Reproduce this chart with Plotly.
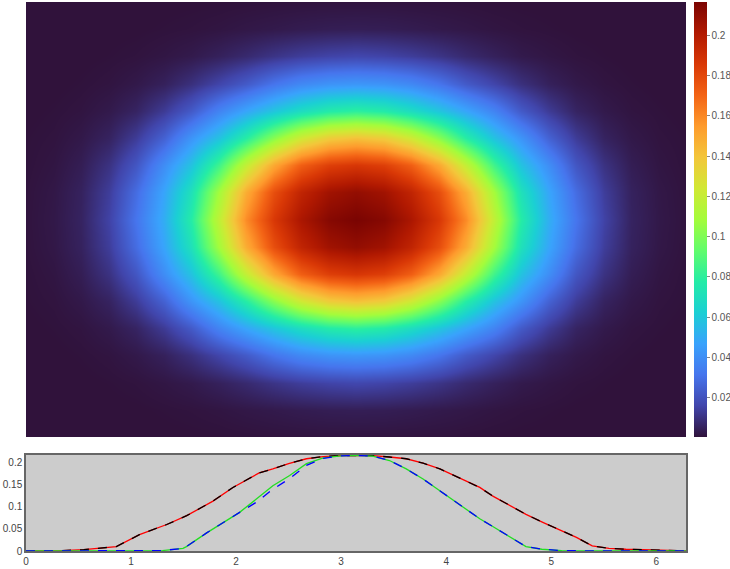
import plotly.graph_objects as go

# ---- Heatmap data: one quadrant (rows: centre -> top edge, cols: centre -> right edge)
heat_quadrant = [
    [0.2165, 0.2131, 0.2028, 0.186, 0.159, 0.118, 0.0774, 0.0507, 0.0315, 0.0152, 0.0057, 0.0024, 0.0010],
    [0.2094, 0.2056, 0.1954, 0.1778, 0.1485, 0.1088, 0.0712, 0.0478, 0.0286, 0.0136, 0.0053, 0.0022, 0.0009],
    [0.1866, 0.1831, 0.172, 0.1503, 0.1188, 0.0847, 0.0578, 0.0396, 0.0214, 0.0102, 0.0040, 0.0016, 0.0007],
    [0.1413, 0.1369, 0.1233, 0.1023, 0.0781, 0.0578, 0.0421, 0.0252, 0.0132, 0.0056, 0.0025, 0.0011, 0.0006],
    [0.080, 0.0768, 0.0691, 0.059, 0.0479, 0.0365, 0.0226, 0.0129, 0.0059, 0.0028, 0.0013, 0.0007, 0.0003],
    [0.0431, 0.0419, 0.0382, 0.0315, 0.0228, 0.016, 0.0096, 0.0050, 0.0026, 0.0013, 0.0007, 0.0003, 0.0002],
    [0.0165, 0.0155, 0.0136, 0.0109, 0.0076, 0.0050, 0.0029, 0.0018, 0.0010, 0.0006, 0.0003, 0.0002, 0.0001],
    [0.0042, 0.0040, 0.0035, 0.0028, 0.0022, 0.0015, 0.0010, 0.0007, 0.0004, 0.0003, 0.0002, 0.0001, 0.0001],
    [0.0011, 0.0011, 0.0010, 0.0009, 0.0007, 0.0005, 0.0004, 0.0003, 0.0002, 0.0001, 0.0001, 0.0001, 0.0001],
]
heat_x = [0, 0.2618, 0.5236, 0.7854, 1.0472, 1.309, 1.5708, 1.8326, 2.0944, 2.3562, 2.618, 2.8798,
          3.1416, 3.4034, 3.6652, 3.927, 4.1888, 4.4506, 4.7124, 4.9742, 5.236, 5.4978, 5.7596,
          6.0214, 6.2832]
heat_y = [0, 0.28, 0.56, 0.84, 1.12, 1.4, 1.68, 1.96, 2.24, 2.52, 2.8, 3.08, 3.36, 3.64, 3.92,
          4.2, 4.48]

# ---- Profile lines (bottom panel)
red_x = [0, 0.3, 0.55, 0.86, 1.08, 1.34, 1.53, 1.78, 1.97, 2.22, 2.35, 2.50, 2.67, 2.83, 2.99,
         3.14, 3.30, 3.46, 3.62, 3.78, 3.94, 4.13, 4.32, 4.44, 4.60, 4.76, 4.92, 5.08, 5.24,
         5.39, 5.55, 5.71, 6.02, 6.283]
red_v = [0, 0.0005, 0.003, 0.010, 0.037, 0.060, 0.080, 0.113, 0.144, 0.177, 0.186, 0.198, 0.209,
         0.214, 0.216, 0.2165, 0.216, 0.213, 0.209, 0.199, 0.186, 0.165, 0.144, 0.125, 0.104,
         0.083, 0.065, 0.048, 0.031, 0.0115, 0.006, 0.004, 0.001, 0]
black_v = [0, 0.0005, 0.003, 0.010, 0.037, 0.060, 0.080, 0.113, 0.144, 0.177, 0.186, 0.198, 0.209,
           0.214, 0.216, 0.2165, 0.216, 0.213, 0.209, 0.199, 0.186, 0.165, 0.144, 0.125, 0.104,
           0.083, 0.065, 0.048, 0.031, 0.0115, 0.006, 0.004, 0.001, 0]

green_x = [0, 0.5, 1.0, 1.30, 1.495, 1.527, 1.72, 1.97, 2.03, 2.19, 2.35, 2.51, 2.67, 2.83, 3.0,
           3.14, 3.30, 3.46, 3.62, 3.78, 3.94, 4.09, 4.20, 4.32, 4.44, 4.60, 4.76, 4.91, 5.1,
           5.5, 6.0, 6.283]
green_v = [0, 0, 0, 0.001, 0.006, 0.010, 0.041, 0.079, 0.087, 0.117, 0.148, 0.171, 0.198, 0.211,
           0.2155, 0.2165, 0.215, 0.205, 0.186, 0.163, 0.136, 0.110, 0.092, 0.073, 0.056, 0.033,
           0.010, 0.004, 0.001, 0, 0, 0]
blue_v = [0, 0, 0, 0.001, 0.006, 0.010, 0.041, 0.079, 0.087, 0.110, 0.140, 0.164, 0.194, 0.210,
          0.2155, 0.2165, 0.215, 0.205, 0.186, 0.163, 0.136, 0.110, 0.092, 0.073, 0.056, 0.033,
          0.010, 0.004, 0.001, 0, 0, 0]

# Build the full symmetric table from the quadrant
half_rows = [row[::-1][:-1] + row for row in heat_quadrant]
z = half_rows[::-1][:-1] + half_rows

W, H = 730, 569
L, R, T, B = 26, 44, 2, 18
ph = H - T - B

fig = go.Figure()
fig.add_trace(go.Heatmap(
    x=heat_x, y=heat_y, z=z, zsmooth="best", colorscale="Turbo",
    zmin=0.0005, zmax=0.2165, xaxis="x", yaxis="y",
    colorbar=dict(
        x=(694 - L) / (W - L - R), xanchor="left", y=1, yanchor="top",
        len=435, lenmode="pixels", thickness=13, thicknessmode="pixels",
        outlinewidth=0, tickmode="linear", tick0=0.02, dtick=0.02, tickformat="~g",
        ticks="outside", ticklen=3,
        tickcolor="#888", tickfont=dict(family="Liberation Sans", size=10, color="#555"),
        xpad=0, ypad=0,
    ),
))

line_w = 1.3
fig.add_trace(go.Scatter(x=red_x, y=red_v, mode="lines", line=dict(color="red", width=line_w),
                         xaxis="x2", yaxis="y2", showlegend=False))
fig.add_trace(go.Scatter(x=red_x, y=black_v, mode="lines",
                         line=dict(color="black", width=line_w, dash="dash"),
                         xaxis="x2", yaxis="y2", showlegend=False))
fig.add_trace(go.Scatter(x=green_x, y=green_v, mode="lines",
                         line=dict(color="#22dd22", width=line_w),
                         xaxis="x2", yaxis="y2", showlegend=False))
fig.add_trace(go.Scatter(x=green_x, y=blue_v, mode="lines",
                         line=dict(color="blue", width=line_w, dash="dash"),
                         xaxis="x2", yaxis="y2", showlegend=False))

tickfont = dict(family="Liberation Sans", size=10, color="#444")
fig.update_layout(
    width=W, height=H, margin=dict(l=L, r=R, t=T, b=B, autoexpand=False),
    paper_bgcolor="white", plot_bgcolor="#cccccc",
    xaxis=dict(domain=[0, 1], range=[0, 6.2832], visible=False),
    yaxis=dict(domain=[1 - 435 / ph, 1], range=[0, 4.48], visible=False),
    xaxis2=dict(domain=[0, 1], range=[0, 6.2832], anchor="y2", dtick=1, tick0=0,
                showgrid=False, zeroline=False, showline=True, mirror=True,
                linecolor="#666", linewidth=1.5, ticks="", tickfont=tickfont),
    yaxis2=dict(domain=[0, 96 / ph], range=[0, 0.2175], anchor="x2", dtick=0.05, tick0=0,
                showgrid=False, zeroline=False, showline=True, mirror=True,
                linecolor="#666", linewidth=1.5, ticks="", tickfont=tickfont),
)

fig.write_html("out.html", config={"displayModeBar": False},
               post_script="document.body.style.margin='0';")
